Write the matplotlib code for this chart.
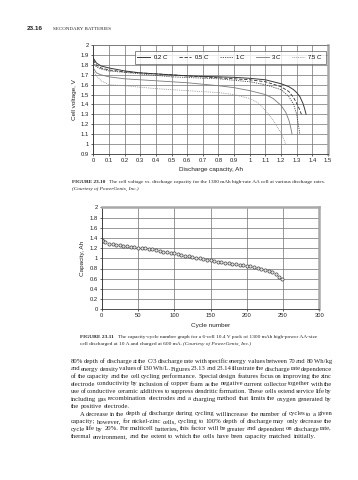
import numpy as np
import matplotlib
matplotlib.use("Agg")
import matplotlib.pyplot as plt

# ---------------- data ----------------
# Fig 23.10: cell voltage vs discharge capacity at several rates
rate_labels = ["0.2 $C$", "0.5 $C$", "1 $C$", "3 $C$", "7.5 $C$"]

cap_02 = [0, 0.02, 0.05, 0.1, 0.2, 0.3, 0.4, 0.5, 0.6, 0.7, 0.8, 0.9, 1.0, 1.1,
          1.15, 1.2, 1.25, 1.28, 1.3, 1.32, 1.34, 1.35, 1.36]
volt_02 = [1.87, 1.82, 1.79, 1.77, 1.74, 1.72, 1.71, 1.70, 1.69, 1.685, 1.68, 1.675,
           1.665, 1.65, 1.63, 1.61, 1.58, 1.55, 1.52, 1.48, 1.41, 1.36, 1.30]

cap_05 = [0, 0.02, 0.05, 0.1, 0.2, 0.3, 0.5, 0.8, 1.0, 1.1, 1.2, 1.25, 1.28, 1.31, 1.33]
volt_05 = [1.85, 1.80, 1.77, 1.75, 1.73, 1.72, 1.70, 1.67, 1.65, 1.63, 1.58, 1.53,
           1.47, 1.38, 1.30]

cap_1 = [0, 0.02, 0.05, 0.1, 0.3, 0.5, 0.8, 1.0, 1.1, 1.2, 1.25, 1.28, 1.3, 1.31, 1.32]
volt_1 = [1.83, 1.78, 1.76, 1.74, 1.71, 1.68, 1.66, 1.63, 1.60, 1.55, 1.48, 1.40,
          1.30, 1.20, 1.10]

cap_3 = [0, 0.02, 0.05, 0.1, 0.2, 0.4, 0.6, 0.8, 0.9, 1.0, 1.1, 1.15, 1.2, 1.23,
         1.25, 1.26, 1.27]
volt_3 = [1.77, 1.72, 1.70, 1.68, 1.66, 1.64, 1.62, 1.59, 1.57, 1.54, 1.50, 1.46,
          1.39, 1.32, 1.24, 1.18, 1.10]

cap_75 = [0, 0.02, 0.05, 0.1, 0.2, 0.4, 0.6, 0.8, 0.9, 1.0, 1.05, 1.1, 1.15, 1.2, 1.23]
volt_75 = [1.74, 1.69, 1.64, 1.60, 1.59, 1.56, 1.54, 1.52, 1.50, 1.46, 1.42, 1.34,
           1.24, 1.11, 1.00]

# Fig 23.11: capacity vs cycle number
cycles = [0, 2, 5, 10, 15, 20, 25, 30, 35, 40, 45, 50, 55, 60, 65, 70, 75, 80, 85,
          90, 95, 100, 105, 110, 115, 120, 125, 130, 135, 140, 145, 150, 155, 160,
          165, 170, 175, 180, 185, 190, 195, 200, 205, 210, 215, 220, 225, 230, 235,
          240, 245, 248]
capacity = [1.36, 1.33, 1.31, 1.29, 1.28, 1.27, 1.26, 1.25, 1.24, 1.23, 1.22, 1.21,
            1.21, 1.20, 1.19, 1.18, 1.16, 1.15, 1.13, 1.12, 1.11, 1.10, 1.08, 1.07,
            1.05, 1.04, 1.03, 1.01, 1.00, 0.99, 0.97, 0.96, 0.94, 0.93, 0.92, 0.91,
            0.90, 0.89, 0.88, 0.87, 0.86, 0.85, 0.84, 0.83, 0.81, 0.80, 0.78, 0.76,
            0.73, 0.69, 0.64, 0.60]

body_lines = [
    "80% depth of discharge at the C/3 discharge rate with specific energy values between 70 and 80 Wh/kg",
    "and energy density values of 130 Wh/L. Figures 23.13 and 23.14 illustrate the discharge rate dependence",
    "of the capacity and the cell cycling performance. Special design features focus on improving the zinc",
    "electrode conductivity by inclusion of copper foam as the negative current collector together with the",
    "use of conductive ceramic additives to suppress dendritic formation. These cells extend service life by",
    "including gas recombination electrodes and a charging method that limits the oxygen generated by",
    "the positive electrode.",
    "A decrease in the depth of discharge during cycling will increase the number of cycles to a given",
    "capacity; however, for nickel-zinc cells, cycling to 100% depth of discharge may only decrease the",
    "cycle life by 20%. For multicell batteries, this factor will be greater and dependent on discharge rate,",
    "thermal environment, and the extent to which the cells have been capacity matched initially.",
]

# ---------------- layout ----------------
W, H = 358, 480
plt.rcParams["mathtext.fontset"] = "custom"
plt.rcParams["mathtext.it"] = "Liberation Sans:italic"
plt.rcParams["mathtext.rm"] = "Liberation Sans"
plt.rcParams["font.family"] = "Liberation Sans"

fig = plt.figure(figsize=(W / 100, H / 100), dpi=100)
renderer = fig.canvas.get_renderer()
SERIF = "Liberation Serif"
INK = "#222222"


def box(x0, y0, x1, y1):
    return [x0 / W, 1 - y1 / H, (x1 - x0) / W, (y1 - y0) / H]


def fy(y):
    return 1 - y / H


def style_axes(ax):
    ax.set_facecolor("white")
    ax.grid(True, color="#707070", lw=0.5)
    ax.set_axisbelow(True)
    for s in ["left", "bottom"]:
        ax.spines[s].set_color("#333333")
        ax.spines[s].set_linewidth(0.6)
    ax.spines["right"].set_color("#a8a8a8")
    ax.spines["right"].set_linewidth(1.8)
    ax.tick_params(labelsize=4.2, length=1.5, width=0.5, pad=1.5, colors=INK)
    ax.xaxis.set_major_formatter(lambda v, p: f"{v:g}")
    ax.yaxis.set_major_formatter(lambda v, p: f"{v:g}")


# top chart
ax1 = fig.add_axes(box(93.3, 45.3, 328, 153.7))
style_axes(ax1)
ax1.spines["top"].set_color("#707070")
ax1.spines["top"].set_linewidth(0.5)
series = [
    (cap_02, volt_02, dict(color="#3a3a3a", ls="-", lw=0.7)),
    (cap_05, volt_05, dict(color="#2e2e2e", ls=(0, (4, 2)), lw=0.6)),
    (cap_1, volt_1, dict(color="#4a4a4a", ls=(0, (1.5, 1.2)), lw=0.6)),
    (cap_3, volt_3, dict(color="#7a7a7a", ls="-", lw=0.6)),
    (cap_75, volt_75, dict(color="#8c8c8c", ls=(0, (1, 1.2)), lw=0.6)),
]
for (x, y, kw), lab in zip(series, rate_labels):
    ax1.plot(x, y, label=lab, **kw)
ax1.set_xlim(0, 1.5)
ax1.set_ylim(0.9, 2.0)
ax1.set_xticks(np.round(np.arange(0, 1.51, 0.1), 1))
ax1.set_yticks(np.round(np.arange(0.9, 2.01, 0.1), 1))
ax1.set_xlabel("Discharge capacity, Ah", fontsize=4.6, labelpad=3, color=INK)
ax1.set_ylabel("Cell voltage, V", fontsize=4.6, labelpad=3, color=INK)
leg = ax1.legend(ncol=5, loc="upper right", bbox_to_anchor=(0.992, 0.952),
                 fontsize=4.2, frameon=True, fancybox=False, handlelength=2.2,
                 columnspacing=1.7, handletextpad=0.4, borderpad=0.45,
                 borderaxespad=0)
leg.get_frame().set_edgecolor("#555555")
leg.get_frame().set_linewidth(0.6)

# bottom chart
ax2 = fig.add_axes(box(101.7, 207.3, 319.3, 309.3))
style_axes(ax2)
ax2.spines["top"].set_color("#a8a8a8")
ax2.spines["top"].set_linewidth(1.8)
ax2.plot(cycles, capacity, ls="none", marker="o", ms=2.3, mfc="#e8e8e8",
         mec="#444444", mew=0.5)
ax2.set_xlim(0, 300)
ax2.set_ylim(0, 2)
ax2.set_xticks(np.arange(0, 301, 50))
ax2.set_yticks(np.round(np.arange(0, 2.01, 0.2), 1))
ax2.set_xlabel("Cycle number", fontsize=4.6, labelpad=3, color=INK)
ax2.set_ylabel("Capacity, Ah", fontsize=4.6, labelpad=3, color=INK)


# ---------------- page text ----------------
BODY_SIZE = 4.8


def width_of(s, size=BODY_SIZE, **kw):
    t = fig.text(0, 0, s, fontsize=size, family=SERIF, **kw)
    w = t.get_window_extent(renderer).width
    t.remove()
    return w


def runs(x, y, parts, size):
    # parts: list of (text, kwargs); y is the baseline in pixels
    for s, kw in parts:
        t = fig.text(x / W, fy(y), s, fontsize=size, va="baseline",
                     family=kw.pop("family", SERIF), color=INK, **kw)
        x += t.get_window_extent(renderer).width


def line_of_words(text, x0, x1, y, last=False):
    # one text per word at its natural place in the line, plus an even
    # share of the slack so that full lines end at the right margin
    words = text.split()
    slack = 0 if last else (x1 - x0 - width_of(text)) / max(len(words) - 1, 1)
    for i, w in enumerate(words):
        start = width_of(" ".join(words[:i + 1])) - width_of(w) + i * slack
        fig.text((x0 + start) / W, fy(y), w, fontsize=BODY_SIZE,
                 va="baseline", family=SERIF, color=INK)


# header
runs(27, 30, [("23.16", dict(family="Liberation Sans", weight="bold"))], 4.6)
runs(53, 30, [("SECONDARY BATTERIES", {})], 3.6)

# caption 1
runs(72, 183, [("FIGURE 23.10", dict(weight="bold")),
               ("   The cell voltage vs. discharge capacity for the 1300 mAh high-rate AA cell at various discharge rates.", {})], 3.8)
runs(72, 190, [("(Courtesy of PowerGenix, Inc.)", dict(style="italic"))], 3.8)

# caption 2
runs(80, 338, [("FIGURE 23.11", dict(weight="bold")),
               ("   The capacity-cycle number graph for a 6-cell 10.4 V pack of 1300 mAh high-power AA-size", {})], 3.9)
runs(80, 345, [("cell discharged at 10 A and charged at 600 mA. ", {}),
               ("(Courtesy of PowerGenix, Inc.)", dict(style="italic"))], 3.9)

# body
last_lines = {6, 10}
for i, line in enumerate(body_lines):
    x0 = 80 if i == 7 else 71
    line_of_words(line, x0, 332, 363 + 7.5 * i, last=i in last_lines)

fig.savefig("out.png", dpi=100, facecolor="white")
